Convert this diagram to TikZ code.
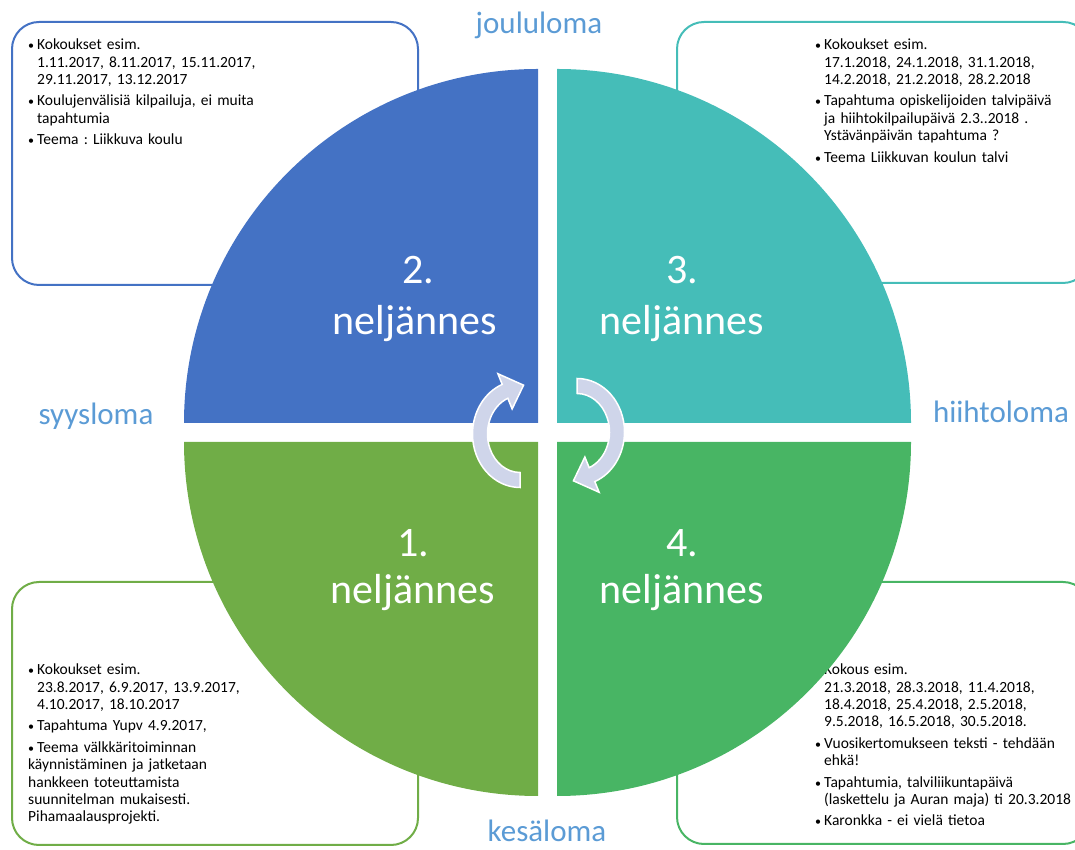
\documentclass[tikz,border=0pt]{standalone}
\usepackage{fontspec}
\setmainfont{Carlito}
\usepackage{tikz}
\usetikzlibrary{calc}

\definecolor{qblue}{HTML}{4472C4}
\definecolor{qteal}{HTML}{45BDB8}
\definecolor{qgreen}{HTML}{70AD47}
\definecolor{qgreenb}{HTML}{48B564}
\definecolor{lomablue}{HTML}{5B9BD5}
\definecolor{lav}{HTML}{CFD5EA}

\newcommand\notefont{\fontsize{15.5}{17.2}\selectfont\frenchspacing}
\newcommand\bitem[1]{\par\noindent\hangindent=9pt\hangafter=1\makebox[9pt][l]{\fontsize{12}{12}\selectfont\textbullet}#1}

\tikzset{
  notebox/.style={draw=#1, line width=2pt, rounded corners=27pt},
  notes/.style={anchor=north west, inner sep=0pt, text width=#1, font=\notefont},
  quarter/.style={fill=#1},
  bignum/.style={anchor=base, inner sep=0pt, text=white, font=\fontsize{42}{50}\selectfont},
  loma/.style={anchor=base, inner sep=0pt, text=lomablue, font=\fontsize{31}{36}\selectfont},
  arrowband/.style={fill=lav, draw=white, line width=1.5pt}
}

\def\cyclearrow(#1)[#2]{\filldraw[arrowband, shift={(#1)}, rotate=#2]
  (270:47.5 and 53.5) arc[start angle=270, end angle=112, x radius=47.5, y radius=53.5]
  -- (112:59 and 65) -- (85:41 and 49) -- (112:21 and 27)
  -- (112:32.5 and 38.5) arc[start angle=112, end angle=270, x radius=32.5, y radius=38.5]
  -- cycle;}

\begin{document}
\begin{tikzpicture}[x=1pt, y=1pt]
		%%%%% START %%%%%
		\useasboundingbox (0, 0) rectangle (1075, 850);
		
		% boxes with the notes
		\draw[notebox=qblue] (12, 828) rectangle (418, 565);
		\draw[notebox=qteal] (677, 828) rectangle (1090, 567);
		\draw[notebox=qgreen] (12, 268) rectangle (418, 5);
		\draw[notebox=qgreenb] (677, 268) rectangle (1090, 6);
		
		\node[notes=300pt] (n2) at (28, 822) {\setlength{\parskip}{4.5pt}%
			\bitem{Kokoukset esim.\newline 1.11.2017, 8.11.2017, 15.11.2017,\newline 29.11.2017, 13.12.2017}
			\bitem{Koulujenvälisiä kilpailuja, ei muita\newline tapahtumia}
			\bitem{Teema : Liikkuva koulu}};
		\node[notes=270pt] (n3) at (815, 822) {\setlength{\parskip}{4.5pt}%
			\bitem{Kokoukset esim.\newline 17.1.2018, 24.1.2018, 31.1.2018,\newline 14.2.2018, 21.2.2018, 28.2.2018}
			\bitem{Tapahtuma opiskelijoiden talvipäivä\newline ja hiihtokilpailupäivä 2.3..2018 .\newline Ystävänpäivän tapahtuma ?}
			\bitem{Teema Liikkuvan koulun talvi}};
		\node[notes=300pt] (n1) at (28, 197) {\setlength{\parskip}{4.5pt}%
			\bitem{Kokoukset esim.\newline 23.8.2017, 6.9.2017, 13.9.2017,\newline 4.10.2017, 18.10.2017}
			\bitem{Tapahtuma Yupv 4.9.2017,}
			\bitem{Teema välkkäritoiminnan\newline käynnistäminen ja jatketaan\newline hankkeen toteuttamista\newline suunnitelman mukaisesti.\newline Pihamaalausprojekti.}};
		\node[notes=270pt] (n4) at (815, 197) {\setlength{\parskip}{4.5pt}%
			\bitem{Kokous esim.\newline 21.3.2018, 28.3.2018, 11.4.2018,\newline 18.4.2018, 25.4.2018, 2.5.2018,\newline 9.5.2018, 16.5.2018, 30.5.2018.}
			\bitem{Vuosikertomukseen teksti - tehdään\newline ehkä!}
			\bitem{Tapahtumia, talviliikuntapäivä\newline (laskettelu ja Auran maja) ti 20.3.2018}
			\bitem{Karonkka - ei vielä tietoa}};
		
		% the four quarters
		\fill[quarter=qblue] (538, 427) -- ++(-354, 0) arc (180:90:354) -- cycle;
		\fill[quarter=qteal] (557, 427) -- ++(0, 354) arc (90:0:354) -- cycle;
		\fill[quarter=qgreen] (538, 408) -- ++(-354, 0) arc (180:270:354) -- cycle;
		\fill[quarter=qgreenb] (557, 408) -- ++(354, 0) arc (0:-90:354) -- cycle;
		
		\node[bignum] (q2num) at (418, 566) {2.};
		\node[bignum] (q2txt) at (415, 515) {neljännes};
		\node[bignum] (q3num) at (682, 566) {3.};
		\node[bignum] (q3txt) at (682, 515) {neljännes};
		\node[bignum] (q1num) at (413, 293) {1.};
		\node[bignum] (q1txt) at (413, 246) {neljännes};
		\node[bignum] (q4num) at (682, 293) {4.};
		\node[bignum] (q4txt) at (682, 246) {neljännes};
		
		% cycle arrows in the middle
		\cyclearrow(520, 416)[0]
		\cyclearrow(577, 418)[180]
		
		% holidays
		\node[loma] (joulu) at (539, 816) {joululoma};
		\node[loma] (syys) at (96, 425) {syysloma};
		\node[loma] (hiihto) at (1001, 427) {hiihtoloma};
		\node[loma] (kesa) at (547, 8) {kesäloma};
		
		%%%%% END %%%%%
	\end{tikzpicture}
\end{document}
